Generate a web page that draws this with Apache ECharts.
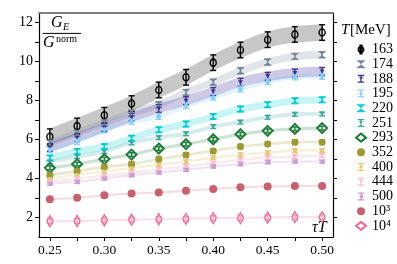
<!DOCTYPE html>
<html><head><meta charset="utf-8">
<script src="https://cdn.jsdelivr.net/npm/echarts@6/dist/echarts.min.js"></script>
<style>html,body{margin:0;padding:0;background:#fff}#c{width:397px;height:264px}</style>
</head><body><div id="c"></div>
<script>
const tauT = [0.25, 0.275, 0.30, 0.325, 0.35, 0.375, 0.40, 0.425, 0.45, 0.475, 0.50];
const temps = ['163','174','188','195','220','251','293','352','400','444','500','10³','10⁴'];
const v163 = [6.15, 6.70, 7.25, 7.85, 8.55, 9.20, 9.95, 10.60, 11.13, 11.40, 11.50];
const v174 = [5.82, 6.33, 6.85, 7.36, 7.79, 8.42, 8.95, 9.53, 9.98, 10.27, 10.36];
const v188 = [5.60, 6.10, 6.62, 7.15, 7.60, 8.00, 8.47, 8.95, 9.25, 9.42, 9.50];
const v195 = [5.47, 5.90, 6.50, 6.93, 7.19, 7.74, 8.18, 8.60, 8.98, 9.22, 9.24];
const v220 = [5.05, 5.39, 5.64, 6.07, 6.50, 6.80, 7.19, 7.57, 7.79, 7.99, 8.04];
const v251 = [4.85, 5.13, 5.39, 5.83, 6.10, 6.30, 6.67, 6.90, 7.15, 7.30, 7.32];
const v293 = [4.55, 4.74, 5.00, 5.23, 5.54, 5.77, 6.02, 6.28, 6.45, 6.55, 6.59];
const v352 = [4.17, 4.38, 4.60, 4.74, 5.00, 5.21, 5.42, 5.64, 5.77, 5.87, 5.87];
const v400 = [4.00, 4.20, 4.38, 4.55, 4.72, 4.87, 5.08, 5.22, 5.33, 5.44, 5.44];
const v444 = [3.85, 4.00, 4.15, 4.30, 4.47, 4.62, 4.79, 4.96, 5.08, 5.13, 5.18];
const v500 = [3.74, 3.83, 4.00, 4.17, 4.31, 4.45, 4.62, 4.74, 4.84, 4.87, 4.87];
const v1e3 = [2.94, 3.02, 3.14, 3.23, 3.28, 3.37, 3.47, 3.55, 3.59, 3.62, 3.62];
const v1e4 = [1.81, 1.82, 1.86, 1.89, 1.91, 1.93, 1.97, 1.97, 2.00, 2.02, 2.02];
const errs = [0.40, 0.15, 0.20, 0.15, 0.13, 0.10, 0.10, 0.12, 0.10, 0.10, 0.08, 0.08, 0.12];
const bandHalf = [0.42, 0.20, 0.25, 0.12, 0.18, 0.10, 0.08, 0.07, 0.06, 0.06, 0.05, 0.05, 0.05];
const xTicks = [0.25, 0.275, 0.30, 0.325, 0.35, 0.375, 0.40, 0.425, 0.45, 0.475, 0.50];
const xLabels = [0.25, 0.30, 0.35, 0.40, 0.45, 0.50];
const yTicks = [2, 3, 4, 5, 6, 7, 8, 9, 10, 11, 12];
const yLabels = [2, 4, 6, 8, 10, 12];

const allVals = [v163, v174, v188, v195, v220, v251, v293, v352, v400, v444, v500, v1e3, v1e4];
const colors = ['#000000','#778899','#3b2e8e','#87cefa','#00ced1','#3ca89e','#1e7b3a','#9c9a30','#e6c97a','#f8bcc6','#c89bd6','#c9606f','#f06c94'];
const bandColors = ['rgba(0,0,0,0.22)','rgba(119,136,153,0.22)','rgba(80,60,160,0.28)','rgba(135,206,250,0.25)','rgba(0,206,209,0.22)','rgba(60,168,158,0.22)','rgba(30,123,58,0.22)','rgba(156,154,48,0.22)','rgba(230,201,122,0.30)','rgba(248,188,198,0.35)','rgba(200,155,214,0.30)','rgba(201,96,111,0.22)','rgba(240,108,148,0.22)'];
const bowtie = 'path://M0,0L10,0L5,5L10,10L0,10L5,5Z';
const downTri = 'path://M0,0L10,0L5,8Z';
const leftTri = 'path://M10,0L10,10L0,5Z';
const markers = [
  {symbol:'circle', size:[6,7], fill:'rgba(0,0,0,0)', bw:1.5},
  {symbol:bowtie, size:7, fill:null, bw:0},
  {symbol:downTri, size:[5,4], fill:null, bw:0},
  {symbol:'diamond', size:6, fill:null, bw:0},
  {symbol:bowtie, size:7, fill:null, bw:0},
  {symbol:downTri, size:[5,4], fill:null, bw:0},
  {symbol:'diamond', size:[10,10], fill:'rgba(255,255,255,0)', bw:2},
  {symbol:'circle', size:7, fill:null, bw:0},
  {symbol:'rect', size:[4,3], fill:null, bw:0},
  {symbol:downTri, size:[5,4], fill:null, bw:0},
  {symbol:leftTri, size:[5,5], fill:null, bw:0},
  {symbol:'circle', size:8, fill:null, bw:0},
  {symbol:'diamond', size:[6,11], fill:'rgba(255,255,255,0.4)', bw:1.5}
];
const ibeam = 'M0,0H8V1.6H4.8V8.4H8V10H0V8.4H3.2V1.6H0Z';
const legendIcons = [
  'path://M5,2A3,3 0 1,1 5,8A3,3 0 1,1 5,2ZM3,0H7M5,0V10M3,10H7',
  'path://M0,0H10V1.6H8.6L5,5L8.6,8.4H10V10H0V8.4H1.4L5,5L1.4,1.6H0Z',
  'path://' + ibeam + 'M1.5,3H6.5L4,6Z',
  'path://' + ibeam + 'M4,2.5L6.5,5L4,7.5L1.5,5Z',
  'path://M0,0H10V1.6H8.6L5,5L8.6,8.4H10V10H0V8.4H1.4L5,5L1.4,1.6H0Z',
  'path://' + ibeam + 'M1.5,3H6.5L4,6Z',
  'diamond',
  'circle',
  'path://' + ibeam + 'M2,3.5H6V6.5H2Z',
  'path://' + ibeam + 'M1.5,3H6.5L4,6Z',
  'path://' + ibeam + 'M6.5,2.5V7.5L1.5,5Z',
  'circle',
  'diamond'
];
const capW = [6,7,6,6,7,6,6,6,6,6,6,6,6];
const FONT = '"Liberation Serif", "DejaVu Serif", serif';

function smoothPath(pts, start) {
  let d = (start ? 'M' : 'L') + pts[0][0] + ',' + pts[0][1];
  for (let i = 0; i < pts.length - 1; i++) {
    const p0 = pts[i - 1] || pts[i], p1 = pts[i], p2 = pts[i + 1], p3 = pts[i + 2] || pts[i + 1];
    const c1 = [p1[0] + (p2[0] - p0[0]) / 6, p1[1] + (p2[1] - p0[1]) / 6];
    const c2 = [p2[0] - (p3[0] - p1[0]) / 6, p2[1] - (p3[1] - p1[1]) / 6];
    d += 'C' + c1.join(',') + ' ' + c2.join(',') + ' ' + p2.join(',');
  }
  return d;
}

const series = [];
allVals.forEach((vals, i) => {
  series.push({type:'custom', z:1, silent:true, clip:true,
    encode:{x:0, y:1},
    data: [[tauT[0], vals[0]]],
    renderItem: function(params, api){
      const h = bandHalf[i];
      const up = tauT.map((x,k)=>api.coord([x, vals[k] + h]));
      const lo = tauT.map((x,k)=>api.coord([x, vals[k] - h])).reverse();
      const d = smoothPath(up, true) + smoothPath(lo, false) + 'Z';
      return {type:'path', shape:{pathData:d}, style:{fill:bandColors[i], stroke:null}};
    }});
});
allVals.forEach((vals, i) => {
  const c = colors[i];
  series.push({type:'custom', z:3, silent:true,
    encode:{x:0, y:1},
    data: tauT.map((x,k)=>[x, vals[k], errs[i]]),
    renderItem: function(params, api){
      const x = api.value(0), y = api.value(1), e = api.value(2);
      const t = api.coord([x, y+e]), b = api.coord([x, y-e]);
      const w = capW[i]/2;
      const st = {stroke:c, lineWidth:1.4};
      return {type:'group', children:[
        {type:'line', shape:{x1:t[0], y1:t[1], x2:b[0], y2:b[1]}, style:st},
        {type:'line', shape:{x1:t[0]-w, y1:t[1], x2:t[0]+w, y2:t[1]}, style:st},
        {type:'line', shape:{x1:b[0]-w, y1:b[1], x2:b[0]+w, y2:b[1]}, style:st}
      ]};
    }});
  const m = markers[i];
  series.push({type:'scatter', name: temps[i], z:4,
    symbol:m.symbol, symbolSize:m.size, symbolKeepAspect:false,
    itemStyle:{color: m.fill === null ? c : m.fill, borderColor:c, borderWidth:m.bw, opacity:1},
    data: tauT.map((x,k)=>[x, vals[k]])});
});

const chart = echarts.init(document.getElementById('c'), null, {renderer:'canvas'});
chart.setOption({
  animation:false,
  backgroundColor:'#fff',
  grid:{left:39, right:64, top:13, bottom:27, containLabel:false},
  xAxis:[
    {type:'value', min:0.24, max:0.51, position:'bottom',
      axisLine:{show:true, onZero:false, lineStyle:{color:'#000', width:1.2}},
      axisTick:{show:true, customValues:xTicks, length:4, lineStyle:{color:'#000', width:1}},
      axisLabel:{show:true, customValues:xLabels, margin:6, color:'#000', fontFamily:FONT, fontSize:13.5,
        formatter: v => Number(v).toFixed(2)},
      splitLine:{show:false}},
    {type:'value', min:0.24, max:0.51, position:'top',
      axisLine:{show:true, onZero:false, lineStyle:{color:'#808080', width:1.8}},
      axisTick:{show:false}, axisLabel:{show:false}, splitLine:{show:false}}
  ],
  yAxis:[
    {type:'value', min:1, max:12.5, position:'left',
      axisLine:{show:true, onZero:false, lineStyle:{color:'#000', width:1.2}},
      axisTick:{show:true, customValues:yTicks, length:4, lineStyle:{color:'#000', width:1}},
      axisLabel:{show:true, customValues:yLabels, margin:6, color:'#000', fontFamily:FONT, fontSize:14},
      splitLine:{show:false}},
    {type:'value', min:1, max:12.5, position:'right',
      axisLine:{show:true, onZero:false, lineStyle:{color:'#000', width:1.2}},
      axisTick:{show:true, customValues:yTicks, length:4, lineStyle:{color:'#000', width:1}},
      axisLabel:{show:false}, splitLine:{show:false}}
  ],
  legend:{
    orient:'vertical', left:350, top:37.1, itemWidth:10, itemHeight:8, itemGap:0,
    data: temps.map((t,i)=>({name:t, icon:legendIcons[i]})),
    textStyle:{color:'#000', fontFamily:FONT, fontSize:14, lineHeight:14.7, padding:[0,0,0,1]},
    selectedMode:false
  },
  graphic:[
    {type:'text', left:341, top:23, style:{text:'T', font:'italic 15px ' + FONT, fill:'#000'}},
    {type:'text', left:350, top:23, style:{text:'[MeV]', font:'15px ' + FONT, fill:'#000'}},
    {type:'text', left:51, top:15, style:{text:'G', font:'italic 16px ' + FONT, fill:'#000'}},
    {type:'text', left:63, top:22, style:{text:'E', font:'italic 10px ' + FONT, fill:'#000'}},
    {type:'line', shape:{x1:42.5, y1:33.4, x2:81, y2:33.4}, style:{stroke:'#000', lineWidth:1}},
    {type:'text', left:43, top:35, style:{text:'G', font:'italic 16px ' + FONT, fill:'#000'}},
    {type:'text', left:56, top:34, style:{text:'norm', font:'10px ' + FONT, fill:'#000'}},
    {type:'text', left:312, top:220, style:{text:'τT', font:'italic 16px ' + FONT, fill:'#000'}}
  ],
  series
});
</script></body></html>
